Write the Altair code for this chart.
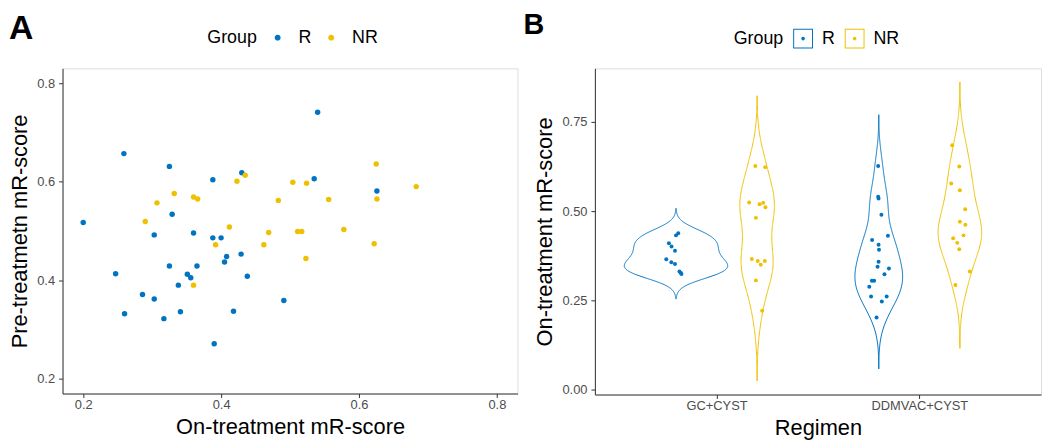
import altair as alt
import numpy as np
import pandas as pd

FONT = "Liberation Sans"
BLUE = "#0073C2"
GOLD = "#EFC000"
groups = ["R", "NR"]
regimens = ["GC+CYST", "DDMVAC+CYST"]

# ---------------- Panel A: on-treatment vs pre-treatment mR-score ----------------
a_r_on = [0.259, 0.325, 0.388, 0.430, 0.329, 0.200, 0.303, 0.360, 0.388, 0.400, 0.429,
          0.408, 0.405, 0.325, 0.365, 0.247, 0.351, 0.356, 0.438, 0.338, 0.286, 0.303,
          0.491, 0.260, 0.341, 0.418, 0.317, 0.390, 0.540, 0.535, 0.626]
a_r_pre = [0.657, 0.631, 0.604, 0.618, 0.534, 0.517, 0.492, 0.496, 0.486, 0.486, 0.453,
           0.448, 0.437, 0.429, 0.429, 0.413, 0.412, 0.405, 0.408, 0.390, 0.371, 0.362,
           0.359, 0.332, 0.336, 0.337, 0.322, 0.271, 0.741, 0.606, 0.581]
a_nr_on = [0.435, 0.423, 0.332, 0.307, 0.360, 0.366, 0.483, 0.290, 0.412, 0.469, 0.392,
           0.462, 0.360, 0.625, 0.504, 0.524, 0.683, 0.626, 0.556, 0.511, 0.517, 0.578,
           0.622, 0.523]
a_nr_pre = [0.613, 0.601, 0.576, 0.557, 0.569, 0.565, 0.562, 0.519, 0.508, 0.497, 0.472,
            0.472, 0.390, 0.636, 0.599, 0.597, 0.590, 0.565, 0.564, 0.499, 0.499, 0.503,
            0.474, 0.444]

# ---------------- Panel B: on-treatment mR-score by regimen ----------------
b_gc_r = [0.438, 0.432, 0.410, 0.401, 0.389, 0.365, 0.357, 0.352, 0.331, 0.327, 0.324]
b_gc_r_jit = [0.011, 0.000, -0.035, -0.022, -0.005, -0.048, -0.023, -0.005, 0.017, 0.024, 0.027]
b_gc_nr = [0.626, 0.623, 0.524, 0.519, 0.523, 0.511, 0.481, 0.366, 0.360, 0.350, 0.360,
           0.306, 0.221]
b_gc_nr_jit = [-0.009, 0.040, -0.039, 0.012, 0.030, 0.041, -0.006, -0.026, 0.003, 0.018,
               0.038, -0.006, 0.025]
b_dd_r = [0.626, 0.540, 0.535, 0.490, 0.431, 0.419, 0.406, 0.392, 0.358, 0.344, 0.339,
          0.323, 0.305, 0.305, 0.288, 0.261, 0.261, 0.247, 0.202]
b_dd_r_jit = [-0.003, -0.003, -0.001, 0.013, 0.045, -0.033, -0.001, 0.001, -0.001, -0.006,
              0.050, 0.028, -0.034, -0.023, -0.047, -0.038, 0.039, 0.015, -0.011]
b_dd_nr = [0.684, 0.625, 0.577, 0.558, 0.505, 0.470, 0.462, 0.432, 0.424, 0.411, 0.393,
           0.331, 0.293]
b_dd_nr_jit = [-0.038, -0.003, -0.043, 0.000, 0.026, 0.000, 0.027, 0.018, -0.033, -0.013,
               -0.003, 0.049, -0.022]

# ---------- tables ----------
dfa = pd.DataFrame({
    "on": a_r_on + a_nr_on,
    "pre": a_r_pre + a_nr_pre,
    "group": ["R"] * len(a_r_on) + ["NR"] * len(a_nr_on),
})
dfa["ord"] = range(len(dfa))

b_sets = [
    ("GC+CYST", "R", b_gc_r, b_gc_r_jit),
    ("GC+CYST", "NR", b_gc_nr, b_gc_nr_jit),
    ("DDMVAC+CYST", "R", b_dd_r, b_dd_r_jit),
    ("DDMVAC+CYST", "NR", b_dd_nr, b_dd_nr_jit),
]
rows = []
for reg, grp, vals, jit in b_sets:
    for v, j in zip(vals, jit):
        rows.append({"regimen": reg, "group": grp, "value": v, "jitter": j})
dfb = pd.DataFrame(rows)


def nrd0(x):
    x = np.asarray(x, float)
    hi = np.std(x, ddof=1)
    q75, q25 = np.percentile(x, [75, 25])
    lo = min(hi, (q75 - q25) / 1.34)
    return 0.9 * lo * len(x) ** -0.2


vrows = []
for reg, grp, vals, _ in b_sets:
    x = np.asarray(vals, float)
    bw = nrd0(x)
    grid = np.linspace(x.min() - 3 * bw, x.max() + 3 * bw, 256)
    dens = np.exp(-0.5 * ((grid[:, None] - x[None, :]) / bw) ** 2).sum(1) / (len(x) * bw * np.sqrt(2 * np.pi))
    for g, d in zip(grid, dens):
        vrows.append({"regimen": reg, "group": grp, "value": float(g), "density": float(d)})
dfv = pd.DataFrame(vrows)

color_scale = alt.Scale(domain=groups, range=[BLUE, GOLD])
pos_expr = ("indexof(['" + "','".join(regimens) + "'], datum.regimen) + 1 + "
            "(datum.group == 'R' ? -0.2 : 0.2)")
label_expr = " : ".join(f"datum.value == {i + 1} ? '{r}'" for i, r in enumerate(regimens)) + " : ''"

axis_common = dict(
    domainColor="#333333", tickColor="#333333", tickSize=4, grid=False,
    labelColor="#4D4D4D", labelFontSize=13, labelFont=FONT,
    titleFont=FONT, titleFontSize=22, titleFontWeight="normal", titleColor="#000000",
)

circle_path = "M-0.35,0A0.35,0.35 0 1,0 0.35,0A0.35,0.35 0 1,0 -0.35,0Z"
box_dot_path = ("M-1,-1H1V1H-1Z M-0.9,-0.9V0.9H0.9V-0.9Z "
                "M-0.18,0A0.18,0.18 0 1,0 0.18,0A0.18,0.18 0 1,0 -0.18,0Z")

legend_common = dict(
    orient="none", direction="horizontal", titleOrient="left",
    titleFont=FONT, titleFontSize=18, titleFontWeight="normal", titleColor="#000000",
    labelFont=FONT, labelFontSize=18, labelColor="#000000",
    symbolStrokeWidth=0, symbolOpacity=1,
)

# ---------- Panel A ----------
chartA = alt.Chart(dfa).mark_circle(size=30, opacity=1).encode(
    x=alt.X("on:Q", title="On-treatment mR-score",
            scale=alt.Scale(domain=[0.17, 0.83], nice=False, zero=False),
            axis=alt.Axis(values=[0.2, 0.4, 0.6, 0.8], format=".1f", labelPadding=1,
                          titlePadding=5, **axis_common)),
    y=alt.Y("pre:Q", title="Pre-treatmetn mR-score",
            scale=alt.Scale(domain=[0.17, 0.83], nice=False, zero=False),
            axis=alt.Axis(values=[0.2, 0.4, 0.6, 0.8], format=".1f", labelPadding=4,
                          titlePadding=5, **axis_common)),
    color=alt.Color("group:N", scale=color_scale, title="Group",
                    legend=alt.Legend(symbolType=circle_path, symbolSize=289,
                                      labelOffset=12, columnPadding=11, titlePadding=11,
                                      legendX=146, legendY=-40, **legend_common)),
    order=alt.Order("ord:Q"),
).properties(
    width=459, height=328,
    title=alt.TitleParams("A", anchor="start", frame="group", fontSize=34, fontWeight="bold",
                          font=FONT, dx=-54, dy=17, offset=0, color="#000000"),
)

# ---------- Panel B ----------
yB = alt.Scale(domain=[-0.0135, 0.8995], nice=False, zero=False)
xB = alt.Scale(domain=[0.4, 2.6], nice=False, zero=False)

violin = alt.Chart(dfv).transform_joinaggregate(
    maxd="max(density)"
).transform_calculate(
    pos=pos_expr
).transform_calculate(
    xl="datum.pos - datum.density / datum.maxd * 0.255",
    xr="datum.pos + datum.density / datum.maxd * 0.255",
).mark_area(orient="horizontal", fillOpacity=0, strokeWidth=1).encode(
    y=alt.Y("value:Q", scale=yB),
    x=alt.X("xl:Q", scale=xB),
    x2="xr:Q",
    stroke=alt.Stroke("group:N", scale=color_scale, legend=None),
    detail="regimen:N",
)

pointsB = alt.Chart(dfb).transform_calculate(
    pos=pos_expr
).transform_calculate(
    xp="datum.pos + datum.jitter"
).mark_circle(size=16, opacity=1).encode(
    x=alt.X("xp:Q", title="Regimen", scale=xB,
            axis=alt.Axis(values=[1, 2], labelExpr=label_expr, labelPadding=1,
                          titlePadding=5, **axis_common)),
    y=alt.Y("value:Q", title="On-treatment mR-score", scale=yB,
            axis=alt.Axis(values=[0, 0.25, 0.5, 0.75], format=".2f", labelPadding=4,
                          titlePadding=5, **axis_common)),
    color=alt.Color("group:N", scale=color_scale, title="Group",
                    legend=alt.Legend(symbolType=box_dot_path, symbolSize=400,
                                      labelOffset=9, columnPadding=10, titlePadding=9,
                                      legendX=140, legendY=-40, **legend_common)),
)

chartB = alt.layer(violin, pointsB).properties(
    width=450, height=329,
    title=alt.TitleParams("B", anchor="start", frame="group", fontSize=29, fontWeight="bold",
                          font=FONT, dx=-72, dy=11, offset=0, color="#000000"),
)

chart = alt.hconcat(chartA, chartB, spacing=4).resolve_scale(
    color="independent"
).resolve_legend(
    color="independent"
).properties(
    padding=0
).configure_view(
    strokeWidth=0
).configure(font=FONT)

chart.save("out.html", embed_options={"renderer": "svg", "actions": False})
